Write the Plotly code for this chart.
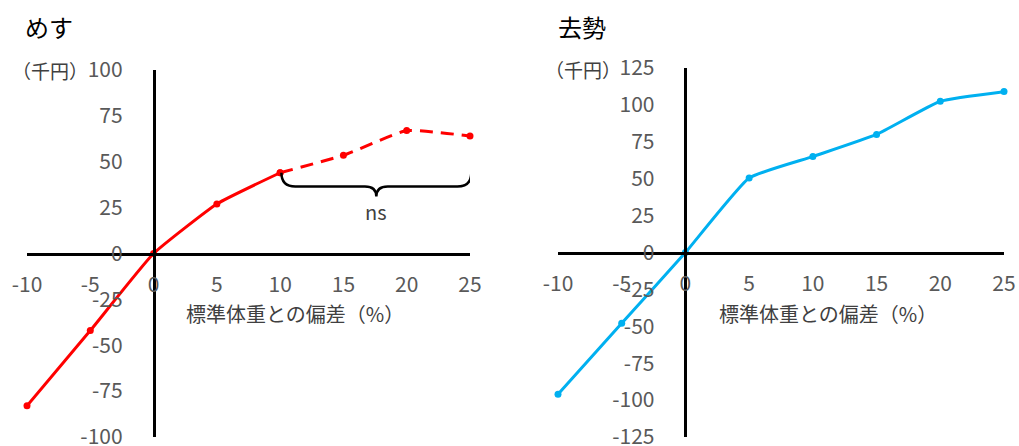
import plotly.graph_objects as go

# ---- data ----
x_vals = [-10, -5, 0, 5, 10]
x_dash = [10, 15, 20, 25]
female_solid = [-83, -42, 0, 27, 44]
female_dash = [44, 53.5, 67, 64]

x_cast = [-10, -5, 0, 5, 10, 15, 20, 25]
castrated = [-96, -48, 0, 50.5, 65, 80, 102.5, 109]

x_ticks = [-10, -5, 0, 5, 10, 15, 20, 25]
y_ticks_left = [-100, -75, -50, -25, 0, 25, 50, 75, 100]
y_ticks_right = [-125, -100, -75, -50, -25, 0, 25, 50, 75, 100, 125]

titles = ["めす", "去勢"]
unit_label = "（千円）"
x_title = "標準体重との偏差（%）"

W, H = 1019, 446
FONT = "Noto Sans CJK JP"
RED = "#FF0000"
BLUE = "#00B0F0"
TICKGRAY = "#595959"

fig = go.Figure()

fig.add_trace(go.Scatter(x=x_vals, y=female_solid, mode="lines+markers",
                         line=dict(color=RED, width=3, shape="spline", smoothing=0.4),
                         marker=dict(size=7, color=RED), cliponaxis=False,
                         xaxis="x", yaxis="y", showlegend=False))
fig.add_trace(go.Scatter(x=x_dash, y=female_dash, mode="lines+markers",
                         line=dict(color=RED, width=3, dash="13px,8px", shape="spline", smoothing=0.4),
                         marker=dict(size=7, color=RED), cliponaxis=False,
                         xaxis="x", yaxis="y", showlegend=False))
fig.add_trace(go.Scatter(x=x_cast, y=castrated, mode="lines+markers",
                         line=dict(color=BLUE, width=3, shape="spline", smoothing=0.4),
                         marker=dict(size=7, color=BLUE), cliponaxis=False,
                         xaxis="x2", yaxis="y2", showlegend=False))

def px2fx(p):
    return p / W

def py2fy(p):
    return 1 - p / H

# domains
lx0, lx1 = 27, 470
rx0, rx1 = 558, 1004
ly_top, ly_bot = 70, 437
ry_top, ry_bot = 68, 437

left_xrange = [-10, 25]
left_yrange = [-100, 100]
right_xrange = [-10, 25]
right_yrange = [-125, 125]

def frac(v, r):
    return (v - r[0]) / (r[1] - r[0])

def lab(v):
    return str(v)  # plain hyphen-minus like the reference

lxd = [px2fx(lx0), px2fx(lx1)]
lyd = [py2fy(ly_bot), py2fy(ly_top)]
rxd = [px2fx(rx0), px2fx(rx1)]
ryd = [py2fy(ry_bot), py2fy(ry_top)]

tickfont = dict(family=FONT, size=21, color=TICKGRAY)

def xaxis_cfg(dom, rng, ydom, yrng):
    return dict(domain=dom, range=rng, anchor="free", automargin=False,
                position=ydom[0] + frac(0, yrng) * (ydom[1] - ydom[0]),
                showline=True, linecolor="black", linewidth=2.5,
                showgrid=False, zeroline=False, ticklabeloverflow="allow",
                ticks="outside", ticklen=12, tickcolor="rgba(0,0,0,0)",
                tickvals=x_ticks, ticktext=[lab(v) for v in x_ticks],
                tickfont=tickfont)

def yaxis_cfg(dom, rng, xdom, xrng, tv):
    return dict(domain=dom, range=rng, anchor="free", automargin=False,
                position=xdom[0] + frac(0, xrng) * (xdom[1] - xdom[0]),
                showline=True, linecolor="black", linewidth=2.5,
                showgrid=False, zeroline=False, ticklabeloverflow="allow",
                ticks="outside", ticklen=26, tickcolor="rgba(0,0,0,0)",
                tickvals=tv, ticktext=[lab(v) for v in tv], tickfont=tickfont)

fig.update_layout(
    width=W, height=H,
    margin=dict(l=0, r=0, t=0, b=0),
    paper_bgcolor="white", plot_bgcolor="white",
    font=dict(family=FONT),
    xaxis=xaxis_cfg(lxd, left_xrange, lyd, left_yrange),
    yaxis=yaxis_cfg(lyd, left_yrange, lxd, left_xrange, y_ticks_left),
    xaxis2=xaxis_cfg(rxd, right_xrange, ryd, right_yrange),
    yaxis2=yaxis_cfg(ryd, right_yrange, rxd, right_xrange, y_ticks_right),
)

ann = []
# titles
ann.append(dict(text=titles[0], x=px2fx(23), y=py2fy(27), xref="paper", yref="paper",
                xanchor="left", yanchor="middle", showarrow=False,
                font=dict(family=FONT, size=24, color="black")))
ann.append(dict(text=titles[1], x=px2fx(556), y=py2fy(27), xref="paper", yref="paper",
                xanchor="left", yanchor="middle", showarrow=False,
                font=dict(family=FONT, size=24, color="black")))
# unit labels
ann.append(dict(text=unit_label, x=px2fx(10), y=py2fy(70), xref="paper", yref="paper",
                xanchor="left", yanchor="middle", showarrow=False,
                font=dict(family=FONT, size=19, color="#404040")))
ann.append(dict(text=unit_label, x=px2fx(543), y=py2fy(69), xref="paper", yref="paper",
                xanchor="left", yanchor="middle", showarrow=False,
                font=dict(family=FONT, size=19, color="#404040")))
# x titles
ann.append(dict(text=x_title, x=px2fx(295), y=py2fy(313), xref="paper", yref="paper",
                xanchor="center", yanchor="middle", showarrow=False,
                font=dict(family=FONT, size=20, color="#404040")))
ann.append(dict(text=x_title, x=px2fx(828), y=py2fy(313), xref="paper", yref="paper",
                xanchor="center", yanchor="middle", showarrow=False,
                font=dict(family=FONT, size=20, color="#404040")))
# ns
ann.append(dict(text="ns", x=17.6, y=23, xref="x", yref="y",
                xanchor="center", yanchor="middle", showarrow=False,
                font=dict(family=FONT, size=20, color="#404040")))
fig.update_layout(annotations=ann)

# brace
brace = ("M 10.1,44 Q 10.1,36.5 11.2,36.5 L 16.7,36.5 Q 17.6,36.5 17.6,31 "
         "Q 17.6,36.5 18.5,36.5 L 24.0,36.5 Q 25.1,36.5 25.1,44")
fig.add_shape(type="path", path=brace, xref="x", yref="y",
              line=dict(color="black", width=2.5))

fig.write_html("out.html")
